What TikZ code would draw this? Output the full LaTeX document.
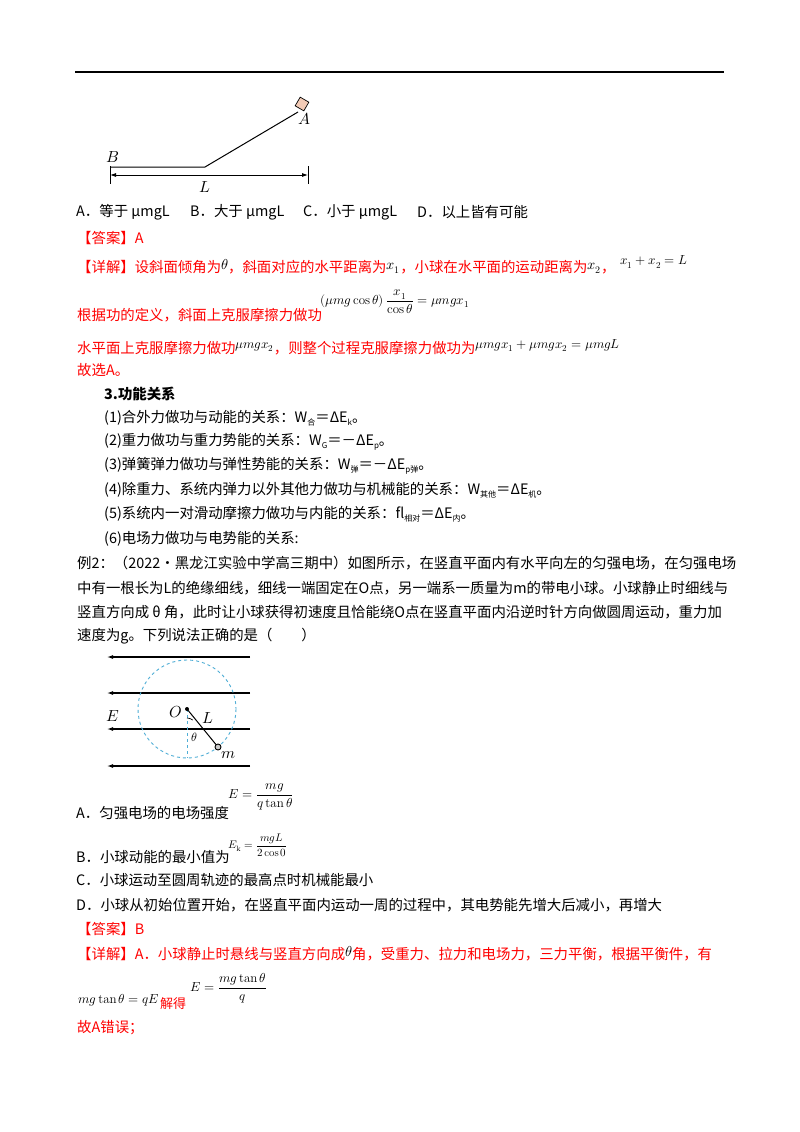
\documentclass[tikz,border=0pt]{standalone}
\usepackage{fontspec}
\usepackage{amsmath}
\usepackage{unicode-math}
\usetikzlibrary{arrows.meta,calc}
\newfontfamily\cjk{Noto Sans CJK SC}
\definecolor{ansred}{HTML}{FF0000}
\definecolor{dashblue}{HTML}{4FAED6}
\definecolor{blockfill}{HTML}{F3CBB6}
\newcommand\sbs[1]{\raisebox{-0.35ex}{\fontsize{8}{8}\selectfont #1}}
\begin{document}
\begin{tikzpicture}[x=1pt,y=-1pt,
  txt/.style={anchor=west,inner sep=0pt,font=\cjk\fontsize{14.4}{16}\selectfont},
  red/.style={txt,text=ansred},
  mth/.style={anchor=west,inner sep=0pt,font=\fontsize{13}{15}\selectfont},
  lbl/.style={anchor=center,inner sep=0pt,font=\fontsize{16}{18}\selectfont},
  fld/.style={line width=1.1pt,-{Latex[length=6pt,width=4pt]}}]
\useasboundingbox (0,0) rectangle (800,1132);
\fill[white] (0,0) rectangle (800,1132);
\draw[line width=1.6pt] (75,72) -- (724,72);

% figure 1
\coordinate (Bp) at (110,167);
\coordinate (K) at (205,167);
\coordinate (Ap) at (298,112);
\draw[line width=1pt] (Bp) -- (K) -- (Ap);
\node[draw,fill=blockfill,minimum size=10pt,inner sep=0pt,rotate=-30,line width=0.7pt] (blk) at (302,104) {};
\coordinate (d1) at (110,175);
\coordinate (d2) at (308,175);
\draw[line width=0.8pt] (110,166) -- (110,184) (308,166) -- (308,184);
\draw[line width=0.8pt,{Latex[length=6pt,width=4pt]}-{Latex[length=6pt,width=4pt]}] (d1) -- (d2);
\node[lbl] (lB) at (113,157) {$B$};
\node[lbl] (lA) at (304,119) {$A$};
\node[lbl] (lL) at (205,187) {$L$};

% options
\node[txt] (oA) at (76,212) {A．等于 μmgL};
\node[txt] (oB) at (190,212) {B．大于 μmgL};
\node[txt] (oC) at (303,212) {C．小于 μmgL};
\node[txt] (oD) at (417,212) {D．以上皆有可能};
\node[red] (ans1) at (77,238) {【答案】A};
\node[red] (det1) at (77,267) {【详解】设斜面倾角为\raisebox{0.4ex}{\color{black}$\theta$}，斜面对应的水平距离为\raisebox{0.4ex}{\color{black}$x_1$}，小球在水平面的运动距离为\raisebox{0.4ex}{\color{black}$x_2$}，};
\node[mth] (f1) at (620,262) {$x_1+x_2=L$};
\node[red] (gen) at (77,315) {根据功的定义，斜面上克服摩擦力做功};
\node[mth] (f2) at (320,302) {$\left(\mu mg\cos\theta\right)\dfrac{x_1}{\cos\theta}=\mu mgx_1$};
\node[red] (hor) at (77,347) {水平面上克服摩擦力做功\raisebox{0.6ex}{\color{black}\fontsize{13}{13}\selectfont$\mu mgx_2$}，则整个过程克服摩擦力做功为\raisebox{0.6ex}{\color{black}\fontsize{13}{13}\selectfont$\mu mgx_1+\mu mgx_2=\mu mgL$}};
\node[red] (sel) at (77,370) {故选A。};

% section 3
\node[txt,font=\cjk\bfseries\fontsize{14.4}{16}\selectfont] (s3) at (104,394) {3.功能关系};
\node[txt] (i1) at (104,418) {(1)合外力做功与动能的关系：W\sbs{合}＝ΔE\sbs{k}。};
\node[txt] (i2) at (104,442) {(2)重力做功与重力势能的关系：W\sbs{G}＝－ΔE\sbs{p}。};
\node[txt] (i3) at (104,466) {(3)弹簧弹力做功与弹性势能的关系：W\sbs{弹}＝－ΔE\sbs{p弹}。};
\node[txt] (i4) at (104,490) {(4)除重力、系统内弹力以外其他力做功与机械能的关系：W\sbs{其他}＝ΔE\sbs{机}。};
\node[txt] (i5) at (104,514) {(5)系统内一对滑动摩擦力做功与内能的关系：fl\sbs{相对}＝ΔE\sbs{内}。};
\node[txt] (i6) at (104,539) {(6)电场力做功与电势能的关系:};
\node[txt] (e1) at (77,563) {例2：（2022•黑龙江实验中学高三期中）如图所示，在竖直平面内有水平向左的匀强电场，在匀强电场};
\node[txt] (e2) at (77,588) {中有一根长为L的绝缘细线，细线一端固定在O点，另一端系一质量为m的带电小球。小球静止时细线与};
\node[txt] (e3) at (77,612) {竖直方向成 θ 角，此时让小球获得初速度且恰能绕O点在竖直平面内沿逆时针方向做圆周运动，重力加};
\node[txt] (e4) at (77,636) {速度为g。下列说法正确的是（　　）};

% figure 2
\foreach \yy/\nm in {657/a,693/b,729/c,766/d}{
  \coordinate (r\nm) at (250,\yy);
  \coordinate (l\nm) at (107,\yy);
  \draw[fld] (r\nm) -- (l\nm);
}
\coordinate (O) at (187,709);
\coordinate (bot) at (187,758);
\draw[dashblue,dashed,line width=0.9pt] (O) circle (49);
\draw[dashblue,dashed,line width=0.9pt] (O) -- (bot);
\coordinate (M) at (218,747);
\draw[line width=1pt] (O) -- (M);
\draw[line width=0.7pt] ($(O)+(0,9)$) arc[start angle=-90,end angle=-50.5,radius=9];
\fill (O) circle (2);
\draw[line width=0.9pt,fill=gray!40] (M) circle (3);
\node[lbl] (lE) at (113,716) {$E$};
\node[lbl] (lO) at (176,712) {$O$};
\node[lbl] (lL2) at (208,718) {$L$};
\node[lbl,font=\fontsize{12}{12}\selectfont] (lth) at (194,737) {$\theta$};
\node[lbl] (lm) at (229,755) {$m$};

% options 2
\node[txt] (pA) at (76,813) {A．匀强电场的电场强度};
\node[mth] (fA) at (228,797) {$E=\dfrac{mg}{q\tan\theta}$};
\node[txt] (pB) at (76,857) {B．小球动能的最小值为};
\node[mth,font=\fontsize{11}{12}\selectfont] (fB) at (228,845) {$E_{\mathrm{k}}=\dfrac{mgL}{2\cos 0}$};
\node[txt] (pC) at (76,880) {C．小球运动至圆周轨迹的最高点时机械能最小};
\node[txt] (pD) at (76,905) {D．小球从初始位置开始，在竖直平面内运动一周的过程中，其电势能先增大后减小，再增大};
\node[red] (ans2) at (77,929) {【答案】B};
\node[red] (det2) at (77,954) {【详解】A．小球静止时悬线与竖直方向成\raisebox{0.4ex}{\color{black}$\theta$}角，受重力、拉力和电场力，三力平衡，根据平衡件，有};
\node[mth] (f3) at (78,1000) {$mg\tan\theta=qE$};
\node[red,font=\cjk\fontsize{13}{14}\selectfont] (jd) at (160,1004) {解得};
\node[mth] (f4) at (190,988) {$E=\dfrac{mg\tan\theta}{q}$};
\node[red] (wr) at (77,1028) {故A错误；};
\end{tikzpicture}
\end{document}
